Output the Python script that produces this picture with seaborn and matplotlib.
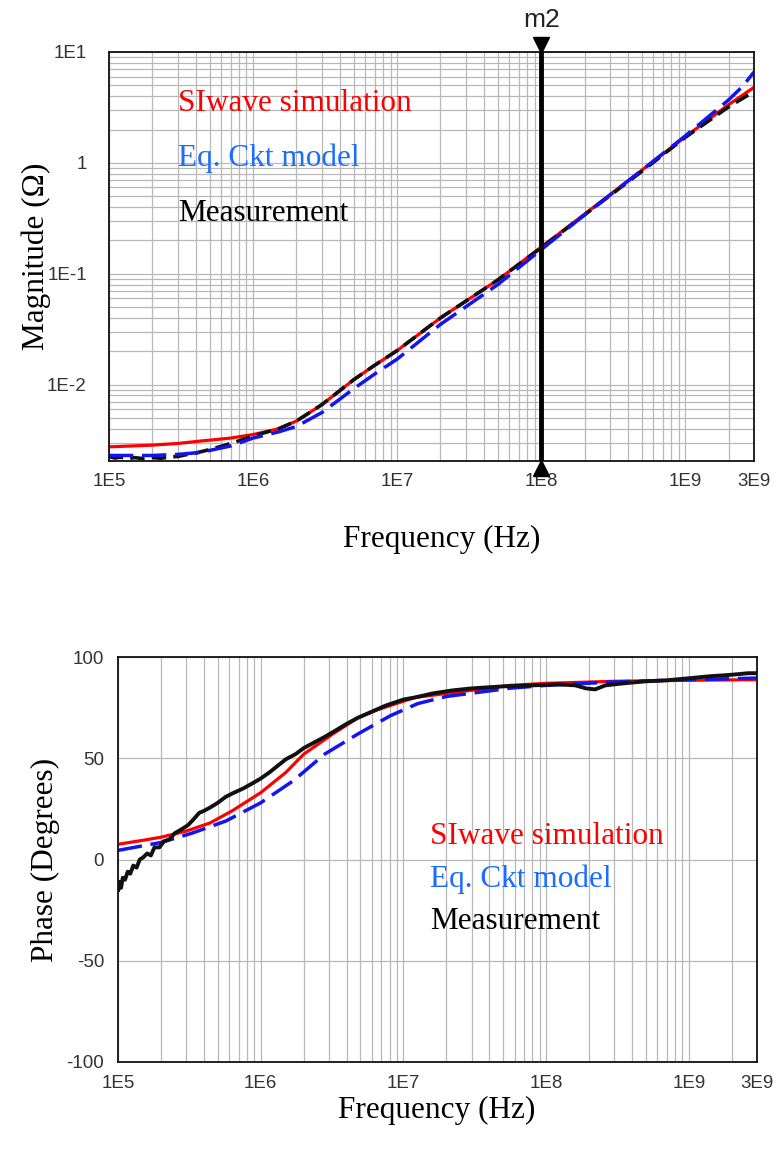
import numpy as np
import pandas as pd
import matplotlib
matplotlib.use("Agg")
import matplotlib.pyplot as plt
import matplotlib.transforms as mtransforms
from matplotlib.ticker import LogLocator, MultipleLocator, NullFormatter
import seaborn as sns

# ---------------- data ----------------
# |Z| magnitude (ohm) vs frequency (Hz)
mag_sim_freq = [1e5, 2e5, 3e5, 4.3e5, 7e5, 1e6, 1.5e6, 2e6, 3e6, 5e6, 7e6, 1e7,
                2e7, 5e7, 1e8, 2e8, 5e8, 1e9, 2e9, 3e9]
mag_sim = [2.75e-3, 2.85e-3, 2.95e-3, 3.1e-3, 3.3e-3, 3.55e-3, 4.0e-3, 4.7e-3, 6.6e-3,
           0.0111, 0.0150, 0.0203, 0.040, 0.088, 0.174, 0.345, 0.86, 1.72, 3.35, 4.8]

mag_ckt_freq = [1e5, 2e5, 3e5, 4.3e5, 7e5, 1e6, 1.5e6, 2e6, 3e6, 5e6, 7e6, 1e7,
                2e7, 5e7, 1e8, 2e8, 5e8, 1e9, 2e9, 2.5e9, 3e9]
mag_ckt = [2.3e-3, 2.3e-3, 2.35e-3, 2.45e-3, 2.8e-3, 3.3e-3, 3.75e-3, 4.2e-3, 5.6e-3,
           9.2e-3, 0.0125, 0.0170, 0.035, 0.080, 0.165, 0.34, 0.86, 1.75, 3.7, 4.9, 6.6]

mag_meas_freq = [1e5, 1.1e5, 1.2e5, 1.35e5, 1.5e5, 1.7e5, 2e5, 2.3e5, 2.7e5, 3e5,
                 3.5e5, 4e5, 5e5, 6e5, 7e5, 8.5e5, 1e6, 1.5e6, 2e6, 3e6, 5e6, 7e6,
                 1e7, 2e7, 5e7, 1e8, 2e8, 5e8, 1e9, 2e9, 3e9]
mag_meas = [2.25e-3, 2.18e-3, 2.22e-3, 2.15e-3, 2.2e-3, 2.16e-3, 2.2e-3, 2.17e-3,
            2.24e-3, 2.25e-3, 2.35e-3, 2.42e-3, 2.6e-3, 2.78e-3, 2.95e-3, 3.2e-3,
            3.45e-3, 4.0e-3, 4.7e-3, 6.6e-3, 0.0111, 0.0150, 0.0203, 0.040, 0.088,
            0.172, 0.34, 0.84, 1.7, 3.2, 4.4]

# Phase (degrees) vs frequency (Hz)
ph_sim_freq = [1e5, 1.5e5, 2e5, 3e5, 4.4e5, 6.3e5, 1e6, 1.5e6, 2e6, 3.2e6, 4.8e6,
               6.6e6, 1.2e7, 2e7, 5.6e7, 1e8, 3e8, 1e9, 3e9]
ph_sim = [7.5, 9.5, 11, 14, 18, 24, 33, 43, 52, 62, 70, 74, 80, 82, 86, 87, 88,
          88.5, 88.8]

ph_ckt_freq = [1e5, 2e5, 3.3e5, 5.7e5, 1e6, 1.7e6, 2.8e6, 4.8e6, 8.1e6, 1.26e7,
               2e7, 5.6e7, 1e8, 2.8e8, 1e9, 3e9]
ph_ckt = [4.5, 8.4, 13, 19, 28, 39, 52, 62, 71, 77, 80.5, 84.6, 86, 87.6, 88.8, 89.6]

ph_meas_freq = [1.00e5, 1.02e5, 1.05e5, 1.08e5, 1.12e5, 1.17e5, 1.22e5, 1.28e5,
                1.35e5, 1.42e5, 1.50e5, 1.60e5, 1.70e5, 1.80e5, 1.95e5, 2.10e5,
                2.30e5, 2.50e5, 2.80e5, 3.10e5, 3.40e5, 3.70e5, 4.00e5, 4.50e5,
                5.00e5, 5.70e5, 6.50e5, 7.50e5, 8.70e5, 1.00e6, 1.15e6, 1.30e6,
                1.50e6, 1.75e6, 2.00e6, 2.40e6, 2.80e6, 3.40e6, 4.00e6, 4.80e6,
                6.00e6, 7.50e6, 1.00e7, 1.20e7, 1.60e7, 2.20e7, 3.00e7, 5.00e7,
                8.00e7, 1.20e8, 1.60e8, 1.90e8, 2.20e8, 2.60e8, 3.50e8, 5.00e8,
                7.00e8, 1.00e9, 1.40e9, 1.80e9, 2.20e9, 2.60e9, 3.00e9]
ph_meas = [-16, -11, -14, -9, -10, -6, -7, -3, -4, 0, 1, 3, 2, 6, 6, 9, 10, 13, 15,
           17, 20, 23, 24, 26, 28, 31, 33, 35, 37.5, 40, 43, 46, 49.5, 52, 55, 58,
           60.5, 64, 67, 70, 73, 76, 79, 80, 82, 83.5, 84.5, 85.5, 86, 86.5, 86,
           84.5, 84, 86, 87, 88, 88.5, 89.5, 90.5, 91, 91.5, 92, 92]

series_names = ["SIwave simulation", "Eq. Ckt model", "Measurement"]
x_ticks = [1e5, 1e6, 1e7, 1e8, 1e9, 3e9]
x_tick_labels = ["1E5", "1E6", "1E7", "1E8", "1E9", "3E9"]
mag_ticks = [1e-2, 1e-1, 1, 10]
mag_tick_labels = ["1E-2", "1E-1", "1", "1E1"]
phase_ticks = [-100, -50, 0, 50, 100]
phase_tick_labels = ["-100", "-50", "0", "50", "100"]
marker_freq = 1e8
marker_name = "m2"

# ---------------- style ----------------
sns.set_style("white")
plt.rcParams["font.family"] = ["Liberation Sans", "DejaVu Sans"]
SERIF = ["Liberation Serif", "DejaVu Serif"]

RED = "#ff0000"
BLUE_LINE = "#1414ee"
BLUE_TEXT = "#1a6dff"
GRID = "#b8b8b8"
TICKTXT = "#333333"

fig = plt.figure(figsize=(7.78, 11.55), dpi=100)
ax_mag = fig.add_axes([109 / 778, 1 - 461 / 1155, 645 / 778, 409 / 1155])
ax_ph = fig.add_axes([118 / 778, 1 - 1062 / 1155, 639 / 778, 405 / 1155])


def draw_series(ax, freq, vals, color, lw, dashes=None):
    df = pd.DataFrame({"f": freq, "v": vals})
    sns.lineplot(data=df, x="f", y="v", ax=ax, color=color, lw=lw,
                 estimator=None, sort=True, legend=False)
    ln = ax.lines[-1]
    if dashes is not None:
        ln.set_dashes(dashes)
    ln.set_solid_capstyle("butt")
    ln.set_dash_capstyle("butt")
    return ln


def style_axis(ax):
    ax.set_xscale("log")
    ax.set_xlim(1e5, 3e9)
    ax.set_xticks(x_ticks, x_tick_labels)
    ax.xaxis.set_minor_locator(LogLocator(base=10, subs=np.arange(2, 10)))
    ax.xaxis.set_minor_formatter(NullFormatter())
    for sp in ax.spines.values():
        sp.set_visible(True)
        sp.set_color("#111111")
        sp.set_linewidth(1.3)
    ax.tick_params(axis="both", which="major", direction="out", length=7,
                   width=1.1, color="#111111", labelsize=13.5,
                   labelcolor=TICKTXT, pad=2)
    ax.tick_params(axis="x", which="minor", length=0)
    ax.grid(True, axis="x", which="both", color=GRID, lw=0.9)
    ax.set_axisbelow(True)
    ax.set_xlabel("Frequency (Hz)", family=SERIF, fontsize=22.5, color="black")


# ---------------- magnitude panel ----------------
mag_low = 2.05e-3
draw_series(ax_mag, mag_sim_freq, mag_sim, RED, 2.3)
draw_series(ax_mag, mag_meas_freq, mag_meas, "#111111", 2.6, dashes=(4, 2))
draw_series(ax_mag, mag_ckt_freq, mag_ckt, BLUE_LINE, 2.5, dashes=(7, 2.5))
style_axis(ax_mag)
ax_mag.set_yscale("log")
ax_mag.set_ylim(mag_low, 10)
ax_mag.set_yticks([mag_low] + mag_ticks, [""] + mag_tick_labels)
ax_mag.yaxis.set_minor_locator(LogLocator(base=10, subs=np.arange(2, 10)))
ax_mag.yaxis.set_minor_formatter(NullFormatter())
ax_mag.tick_params(axis="y", which="major", length=14)
ax_mag.tick_params(axis="y", which="minor", length=0)
ax_mag.grid(True, axis="y", which="both", color=GRID, lw=0.9)
ax_mag.set_ylabel("Magnitude (Ω)", family=SERIF, fontsize=22.5, color="black")
ax_mag.yaxis.set_label_coords(-0.090, 0.5)
ax_mag.xaxis.set_label_coords(0.516, -0.157)
ax_mag.xaxis.label.set_va("top")

# marker m2
ax_mag.axvline(marker_freq, color="black", lw=3.5, zorder=5)
blend = mtransforms.blended_transform_factory(ax_mag.transData, ax_mag.transAxes)
ax_mag.plot([marker_freq], [1.018], marker="v", ms=12, color="black",
            transform=blend, clip_on=False, zorder=6)
ax_mag.plot([marker_freq], [-0.018], marker="^", ms=11, color="black",
            transform=blend, clip_on=False, zorder=6)
ax_mag.text(marker_freq, 1.078, marker_name, transform=blend, ha="center",
            va="center", fontsize=19, color="#222222")

legend_colors = [RED, BLUE_TEXT, "black"]
for name, col, yy in zip(series_names, legend_colors, [0.875, 0.741, 0.604]):
    ax_mag.text(0.107, yy, name, transform=ax_mag.transAxes, family=SERIF,
                fontsize=22.5, color=col, va="center", ha="left")

# ---------------- phase panel ----------------
draw_series(ax_ph, ph_sim_freq, ph_sim, RED, 2.3)
draw_series(ax_ph, ph_ckt_freq, ph_ckt, BLUE_LINE, 2.5, dashes=(7, 2.5))
draw_series(ax_ph, ph_meas_freq, ph_meas, "#111111", 2.8)
style_axis(ax_ph)
ax_ph.set_ylim(-100, 100)
ax_ph.set_yticks(phase_ticks, phase_tick_labels)
ax_ph.yaxis.set_minor_locator(MultipleLocator(10))
ax_ph.tick_params(axis="y", which="major", length=8)
ax_ph.tick_params(axis="y", which="minor", length=5, width=1.0, color="#222222")
ax_ph.grid(True, axis="y", which="major", color=GRID, lw=0.9)
ax_ph.set_ylabel("Phase (Degrees)", family=SERIF, fontsize=22.5, color="black")
ax_ph.yaxis.set_label_coords(-0.090, 0.5)
ax_ph.xaxis.set_label_coords(0.498, -0.084)
ax_ph.xaxis.label.set_va("top")

for name, col, yy in zip(series_names, legend_colors, [0.558, 0.452, 0.348]):
    ax_ph.text(0.488, yy, name, transform=ax_ph.transAxes, family=SERIF,
               fontsize=22.5, color=col, va="center", ha="left")

fig.savefig("out.png", dpi=100, facecolor="white")
